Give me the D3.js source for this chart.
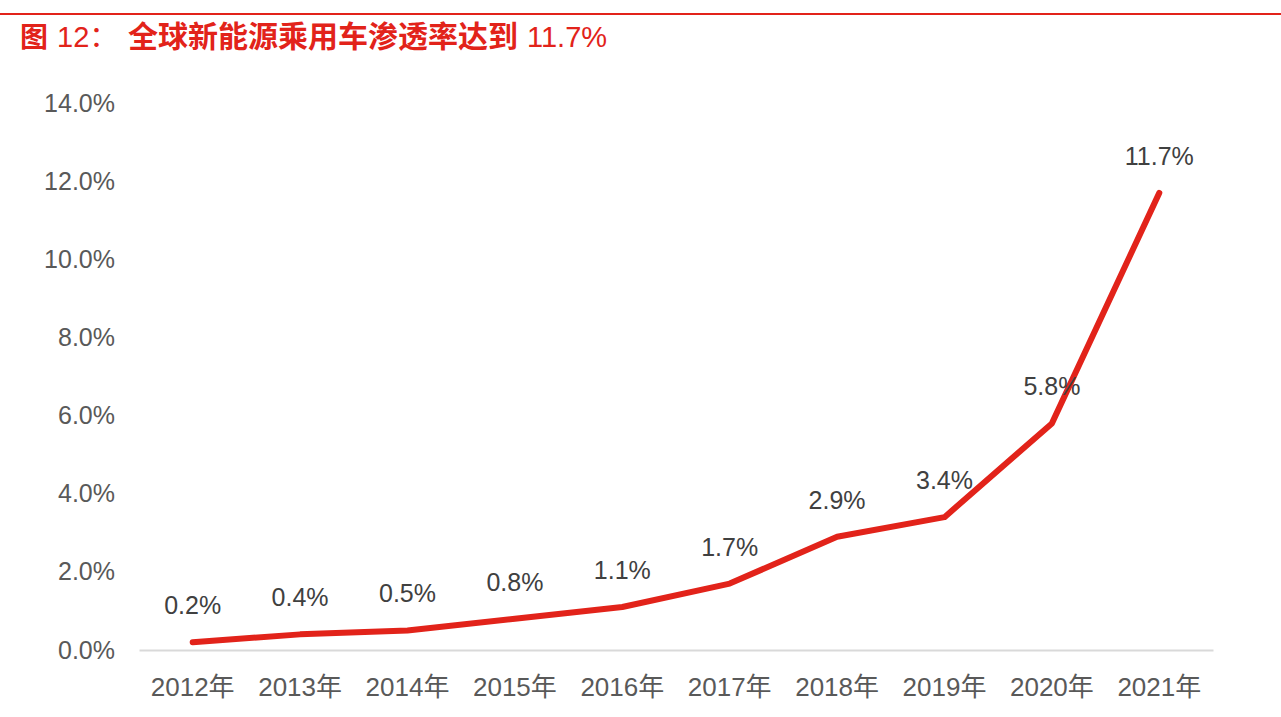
<!DOCTYPE html>
<html><head><meta charset="utf-8">
<script src="https://cdn.jsdelivr.net/npm/d3@7"></script>
<style>
body{margin:0;background:#fff;}
svg{display:block;}
</style></head>
<body>
<svg id="chart" width="1281" height="717"></svg>
<script>
const categories = ["2012年","2013年","2014年","2015年","2016年","2017年","2018年","2019年","2020年","2021年"];
const values = [0.2,0.4,0.5,0.8,1.1,1.7,2.9,3.4,5.8,11.7];
const yTicks = [0,2,4,6,8,10,12,14];
const titleParts = ["图", "12：", "全球新能源乘用车渗透率达到", "11.7%"];

const svg = d3.select("#chart");
const font = "Arial, 'Liberation Sans', 'Noto Sans CJK SC', sans-serif";
const cjk = "'Noto Sans CJK SC', sans-serif";
const margin = {left:139, right:1213, top:103, bottom:650};
const red = "#e2231a";

svg.append("line").attr("x1",0).attr("x2",1281).attr("y1",14).attr("y2",14)
  .attr("stroke",red).attr("stroke-width",2);
const t = svg.append("text").attr("y",47).attr("fill",red);
t.append("tspan").attr("x",20).attr("font-size",28).attr("font-weight",700).attr("font-family",cjk).text(titleParts[0]);
t.append("tspan").attr("x",57).attr("font-size",29).attr("font-family",font).text(titleParts[1]);
t.append("tspan").attr("x",128).attr("font-size",30).attr("font-weight",700).attr("font-family",cjk).text(titleParts[2]);
t.append("tspan").attr("x",527).attr("font-size",29).attr("font-family",font).text(titleParts[3]);

const x = d3.scaleBand().domain(categories).range([margin.left, margin.right]);
const y = d3.scaleLinear().domain([0,14]).range([margin.bottom, margin.top]);

// y axis
const yAxis = d3.axisLeft(y).tickValues(yTicks).tickFormat(d=>d.toFixed(1)+"%").tickSize(0).tickPadding(0);
const yg = svg.append("g").attr("transform","translate(115,0)").call(yAxis);
yg.select(".domain").remove();
yg.selectAll("text").attr("font-size",25).attr("fill","#595959").attr("font-family",font);

// x axis
const xAxis = d3.axisBottom(x).tickSize(0).tickPadding(0);
const xg = svg.append("g").attr("transform",`translate(0,${margin.bottom})`).call(xAxis);
xg.select(".domain").attr("stroke","#d9d9d9").attr("stroke-width",2);
xg.selectAll("text").attr("font-size",26).attr("fill","#595959").attr("font-family",font)
  .attr("dy",0).attr("y",46);

// line
const line = d3.line().x((d,i)=>x(categories[i])+x.bandwidth()/2).y(d=>y(d));
svg.append("path").datum(values).attr("d",line).attr("fill","none")
  .attr("stroke",red).attr("stroke-width",6).attr("stroke-linecap","round").attr("stroke-linejoin","round");

// labels
svg.selectAll(".lbl").data(values).enter().append("text").attr("class","lbl")
  .attr("x",(d,i)=>x(categories[i])+x.bandwidth()/2)
  .attr("y",d=>y(d)-28)
  .attr("text-anchor","middle").attr("font-size",25).attr("fill","#404040").attr("font-family",font)
  .text(d=>d.toFixed(1)+"%");
</script>
</body></html>
